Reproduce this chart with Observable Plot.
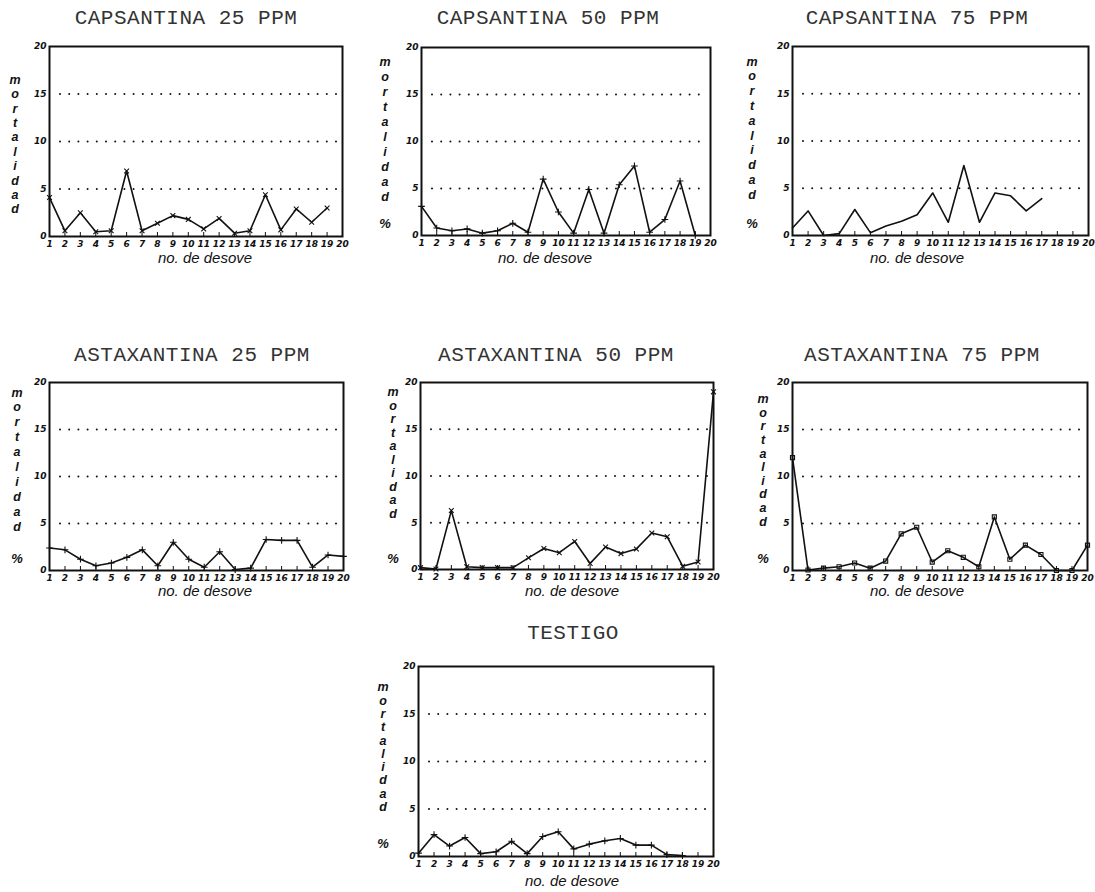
<!DOCTYPE html>
<html><head><meta charset="utf-8">
<script src="https://cdn.jsdelivr.net/npm/d3@7"></script>
<script src="https://cdn.jsdelivr.net/npm/@observablehq/plot@0.6"></script>
<style>
body{margin:0;background:#fff;}
#page{position:relative;width:1095px;height:892px;overflow:hidden;background:#fff;}
.title{position:absolute;font-family:"Liberation Mono","DejaVu Sans Mono",monospace;font-size:21px;font-weight:normal;letter-spacing:0.5px;color:#333;transform:translate(-50%,-50%);white-space:nowrap;}
.xlab{position:absolute;font-family:"Liberation Sans",Arial,sans-serif;font-style:italic;font-size:15px;color:#111;transform:translate(-50%,-50%);white-space:nowrap;}
.ylab{position:absolute;font-family:"Liberation Sans",Arial,sans-serif;font-style:italic;font-weight:bold;font-size:12.5px;color:#111;text-align:center;width:20px;transform:translateX(-50%);}
.pct{position:absolute;font-family:"Liberation Sans",Arial,sans-serif;font-style:italic;font-weight:bold;font-size:13px;color:#111;transform:translate(-50%,-50%);}
.plot{position:absolute;}
</style>
</head><body>
<div id="page"></div>
<script>
const desove = [1,2,3,4,5,6,7,8,9,10,11,12,13,14,15,16,17,18,19,20];
const yTicks = [0,5,10,15,20];
const gridLevels = [5,10,15];

const capsantina25  = [4.1,0.6,2.5,0.5,0.6,6.9,0.6,1.4,2.2,1.8,0.8,1.9,0.35,0.6,4.4,0.7,2.9,1.5,3.0];
const capsantina50  = [3.1,0.8,0.5,0.7,0.25,0.5,1.3,0.35,6.0,2.5,0.25,4.9,0.25,5.4,7.4,0.35,1.7,5.8,0];
const capsantina75  = [0.8,2.6,0,0.2,2.75,0.3,1.0,1.5,2.2,4.5,1.4,7.4,1.4,4.5,4.2,2.6,3.9];
const astaxantina25 = [2.4,2.2,1.2,0.5,0.8,1.4,2.2,0.5,3.0,1.2,0.35,2.0,0.1,0.25,3.3,3.2,3.2,0.35,1.65,1.5];
const astaxantina50 = [0.2,0.05,6.3,0.3,0.2,0.2,0.2,1.25,2.25,1.8,3.0,0.65,2.4,1.7,2.2,3.9,3.5,0.35,0.8,19.0];
const astaxantina75 = [12.0,0.05,0.25,0.4,0.8,0.25,1.0,3.9,4.6,0.9,2.1,1.4,0.4,5.7,1.2,2.7,1.7,0,0,2.7];
const testigo       = [0.35,2.3,1.1,2.0,0.3,0.5,1.6,0.3,2.1,2.6,0.8,1.3,1.65,1.9,1.2,1.2,0.2,0.1];

const titles = ["CAPSANTINA 25 PPM","CAPSANTINA 50 PPM","CAPSANTINA 75 PPM",
  "ASTAXANTINA 25 PPM","ASTAXANTINA 50 PPM","ASTAXANTINA 75 PPM","TESTIGO"];
const series = [capsantina25,capsantina50,capsantina75,astaxantina25,astaxantina50,astaxantina75,testigo];
const symbols = ["times","plus",null,"plus","times","square","plus"];
const xLabel = "no. de desove";
const yLabel = "mortalidad";

// layout (pixel positions of each panel frame and its texts)
const layout = [
  {L:49, R:342, T:46, B:236, tx:186, ty:18, xx:205, xy:257, yx:15, ym:80, ys:14.4, py:null},
  {L:421,R:710, T:47, B:235, tx:548, ty:18, xx:545, xy:257, yx:385, ym:62, ys:15, py:223},
  {L:792,R:1088,T:46, B:235, tx:917, ty:18, xx:917, xy:257, yx:752, ym:62, ys:14.8, py:223},
  {L:49, R:343, T:382,B:570, tx:192, ty:355, xx:205, xy:590, yx:17, ym:393, ys:14.9, py:558},
  {L:420,R:713, T:382,B:569, tx:556, ty:355, xx:572, xy:590, yx:393, ym:393, ys:13.5, py:558},
  {L:792,R:1087,T:382,B:570, tx:922, ty:355, xx:917, xy:590, yx:763, ym:400, ys:13.6, py:558},
  {L:418,R:713, T:666,B:856, tx:573, ty:633, xx:572, xy:880, yx:383, ym:688, ys:13.3, py:843}
];

const page = document.getElementById("page");
const mL = 24, mR = 4, mT = 8, mB = 20;
const tickFont = {fontSize: 9, fontWeight: "bold", fontStyle: "italic", fontFamily: "DejaVu Sans, sans-serif"};

layout.forEach((g, i) => {
  const rows = series[i].map((v, k) => ({x: desove[k], y: v}));
  const innerH = g.B - g.T;
  const marks = [
    Plot.ruleY(gridLevels, {stroke: "#111", strokeWidth: 2, strokeDasharray: "0,9.2", strokeLinecap: "round", insetLeft: 11, insetRight: 3}),
    Plot.ruleX(desove, {stroke: "#111", strokeWidth: 1, insetTop: innerH - 4}),
    Plot.axisX(desove, {tickSize: 0, tickPadding: 4, ...tickFont}),
    Plot.axisY(yTicks, {tickSize: 0, tickPadding: 3, ...tickFont}),
    Plot.line(rows, {x: "x", y: "y", stroke: "#111", strokeWidth: 1.6}),
    Plot.frame({stroke: "#111", strokeWidth: 2})
  ];
  if (symbols[i]) marks.push(Plot.dot(rows, {x: "x", y: "y", symbol: symbols[i], r: 2.3, stroke: "#111", strokeWidth: 1.1, fill: "none"}));
  const chart = Plot.plot({
    width: g.R - g.L + mL + mR,
    height: innerH + mT + mB,
    marginLeft: mL, marginRight: mR, marginTop: mT, marginBottom: mB,
    x: {domain: [1, 20], label: null},
    y: {domain: [0, 20], label: null},
    style: {background: "transparent", overflow: "visible", color: "#111"},
    marks
  });
  chart.classList.add("plot");
  chart.style.left = (g.L - mL) + "px";
  chart.style.top = (g.T - mT) + "px";
  page.appendChild(chart);

  const t = document.createElement("div");
  t.className = "title"; t.textContent = titles[i];
  t.style.left = g.tx + "px"; t.style.top = g.ty + "px";
  page.appendChild(t);

  const xl = document.createElement("div");
  xl.className = "xlab"; xl.textContent = xLabel;
  xl.style.left = g.xx + "px"; xl.style.top = g.xy + "px";
  page.appendChild(xl);

  const yl = document.createElement("div");
  yl.className = "ylab";
  yl.innerHTML = yLabel.split("").join("<br>");
  yl.style.lineHeight = g.ys + "px";
  yl.style.left = g.yx + "px";
  yl.style.top = (g.ym - g.ys / 2) + "px";
  page.appendChild(yl);

  if (g.py) {
    const p = document.createElement("div");
    p.className = "pct"; p.textContent = "%";
    p.style.left = g.yx + "px"; p.style.top = g.py + "px";
    page.appendChild(p);
  }
});
</script>
</body></html>
